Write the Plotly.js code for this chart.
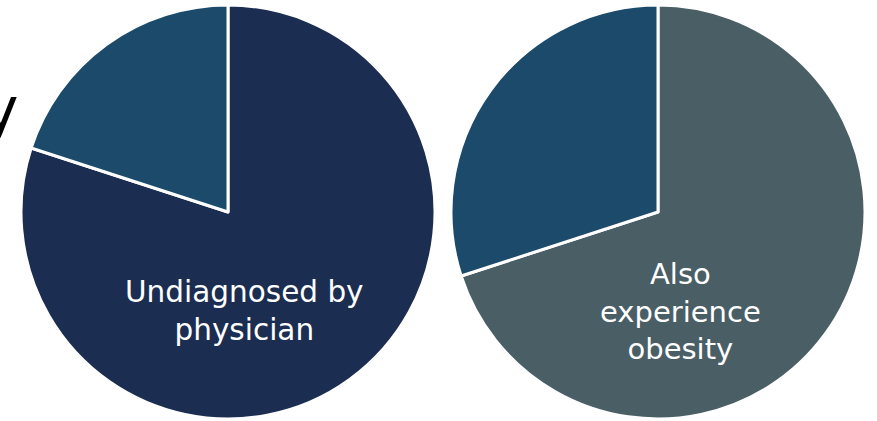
<!DOCTYPE html>
<html>
<head>
<meta charset="utf-8">
<script src="https://cdn.plot.ly/plotly-3.0.1.min.js"></script>
<style>html,body{margin:0;padding:0;background:#fff;}#chart{width:877px;height:421px;}</style>
</head>
<body>
<div id="chart"></div>
<script>
// Data
const leftLabels = ["Undiagnosed by physician", "Diagnosed"];
const leftValues = [80, 20];
const rightLabels = ["Also experience obesity", "No obesity"];
const rightValues = [70, 30];
const leftColors = ["#1b2d50", "#1b4a6b"];
const rightColors = ["#4a5e66", "#1b4a6b"];

const W = 877, H = 421, R = 207;
function dom(cx, cyTop) {
  const cy = H - cyTop;
  return { x: [(cx - R) / W, (cx + R) / W], y: [(cy - R) / H, (cy + R) / H] };
}

const common = {
  type: "pie", sort: false, direction: "clockwise", rotation: 0,
  textinfo: "none", hoverinfo: "none", showlegend: false,
};

const data = [
  Object.assign({}, common, {
    labels: leftLabels, values: leftValues, domain: dom(228, 212),
    marker: { colors: leftColors, line: { color: "#ffffff", width: 3 } }
  }),
  Object.assign({}, common, {
    labels: rightLabels, values: rightValues, domain: dom(658, 212),
    marker: { colors: rightColors, line: { color: "#ffffff", width: 3 } }
  })
];

const font = "'DejaVu Sans', sans-serif";
const layout = {
  width: W, height: H,
  margin: { l: 0, r: 0, t: 0, b: 0 },
  paper_bgcolor: "#ffffff",
  annotations: [
    { text: "Undiagnosed by<br>physician", x: 244 / W, y: 1 - 311 / H, xref: "paper", yref: "paper",
      xanchor: "center", yanchor: "middle",
      showarrow: false, font: { family: font, size: 29.5, color: "#ffffff" }, align: "center" },
    { text: "Also<br>experience<br>obesity", x: 680 / W, y: 1 - 311 / H, xref: "paper", yref: "paper",
      xanchor: "center", yanchor: "middle",
      showarrow: false, font: { family: font, size: 29, color: "#ffffff" }, align: "center" },
    { text: "y", x: -19 / W, y: 1 - 72 / H, xref: "paper", yref: "paper", xanchor: "left", yanchor: "top",
      showarrow: false, font: { family: font, size: 60, color: "#000000" } }
  ]
};

Plotly.newPlot("chart", data, layout, { staticPlot: true, displayModeBar: false });
</script>
</body>
</html>
